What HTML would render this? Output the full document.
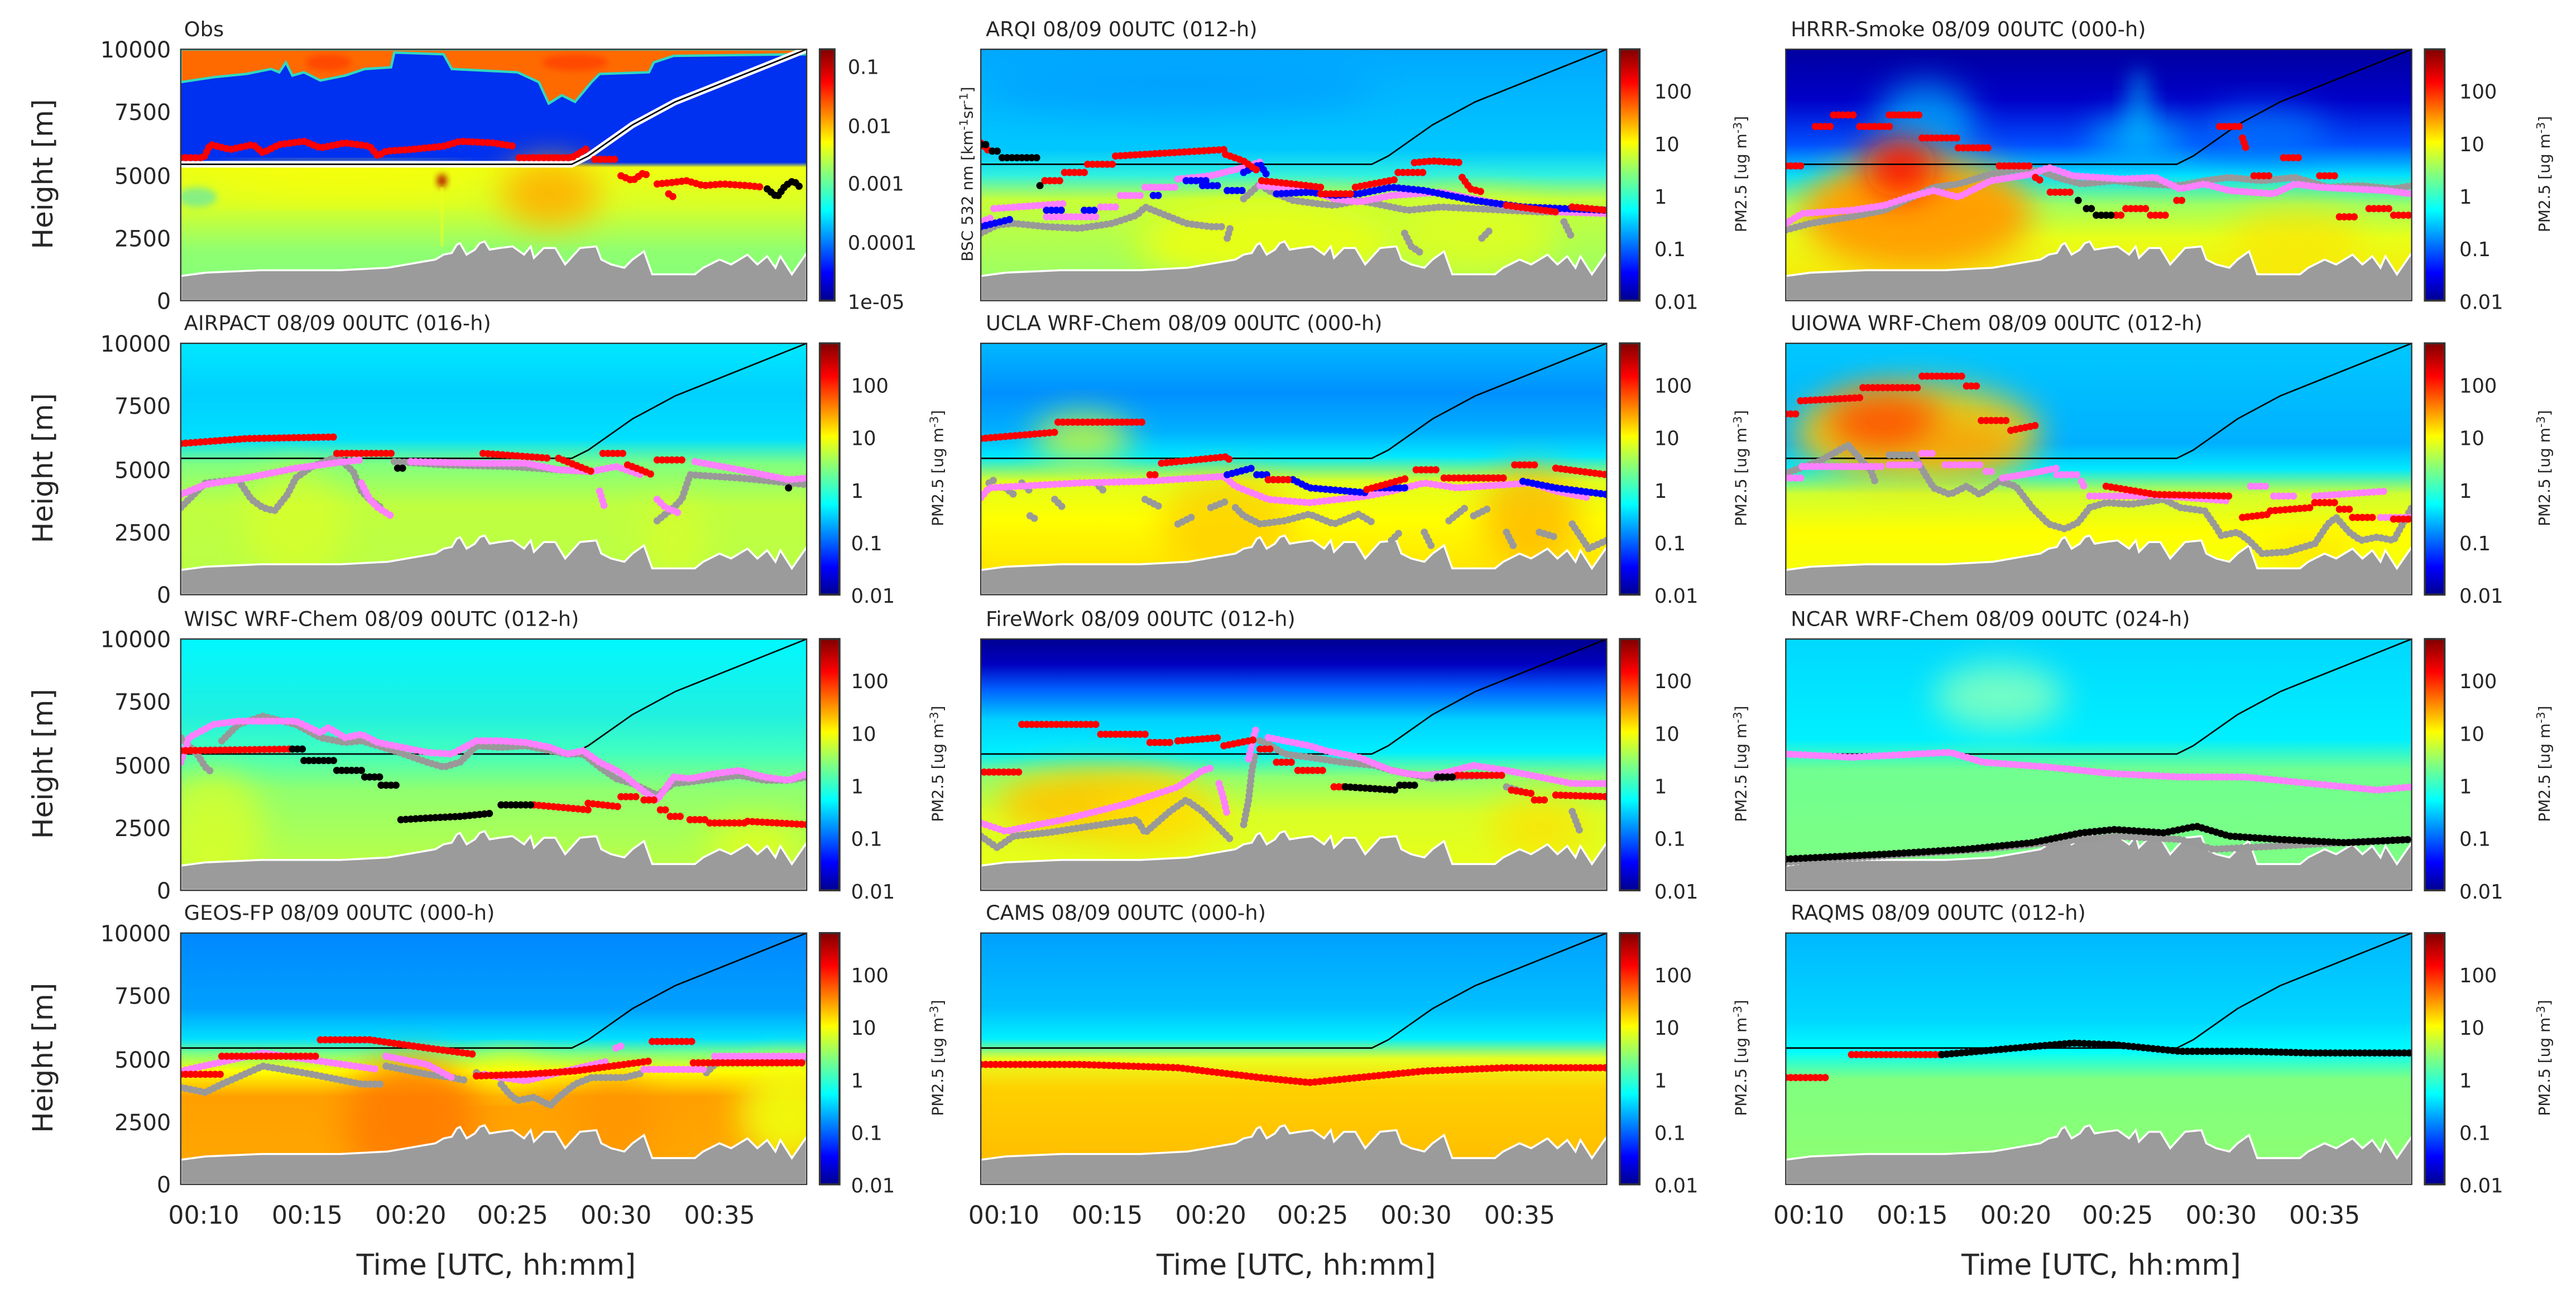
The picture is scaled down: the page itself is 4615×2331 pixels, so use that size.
<!DOCTYPE html>
<html><head><meta charset="utf-8"><style>html,body{margin:0;padding:0;background:#fff}svg{display:block}text{font-family:"DejaVu Sans","Liberation Sans",sans-serif;fill:#262626}</style></head><body>
<svg width="4615" height="2331" viewBox="0 0 1568 792" xmlns="http://www.w3.org/2000/svg">
<defs>
<linearGradient id="jet" x1="0" y1="1" x2="0" y2="0">
<stop offset="0" stop-color="#00008f"/><stop offset=".11" stop-color="#0000ff"/><stop offset=".36" stop-color="#00ffff"/><stop offset=".5" stop-color="#80ff80"/><stop offset=".63" stop-color="#ffff00"/><stop offset=".87" stop-color="#ff0000"/><stop offset="1" stop-color="#800000"/></linearGradient>
<linearGradient id="g1" x1="0" y1="0" x2="0" y2="1"><stop offset="0" stop-color="#0030f0"/><stop offset=".45" stop-color="#0030f0"/><stop offset=".47" stop-color="#f0ff10"/><stop offset=".62" stop-color="#d8ff28"/><stop offset=".8" stop-color="#90ff70"/><stop offset="1" stop-color="#80ff80"/></linearGradient>
<linearGradient id="g2" x1="0" y1="0" x2="0" y2="1"><stop offset="0" stop-color="#00a8ff"/><stop offset=".4" stop-color="#00c8ff"/><stop offset=".5" stop-color="#30f0e0"/><stop offset=".6" stop-color="#c8ff38"/><stop offset="1" stop-color="#90ff70"/></linearGradient>
<linearGradient id="g3" x1="0" y1="0" x2="0" y2="1"><stop offset="0" stop-color="#0000a0"/><stop offset=".2" stop-color="#0000c8"/><stop offset=".38" stop-color="#0050ff"/><stop offset=".5" stop-color="#00e0ff"/><stop offset=".62" stop-color="#a0ff60"/><stop offset=".75" stop-color="#e8ff18"/><stop offset="1" stop-color="#ffe000"/></linearGradient>
<linearGradient id="g4" x1="0" y1="0" x2="0" y2="1"><stop offset="0" stop-color="#00e8ff"/><stop offset=".2" stop-color="#00d0ff"/><stop offset=".38" stop-color="#00e0ff"/><stop offset=".48" stop-color="#80ff80"/><stop offset=".65" stop-color="#c0ff40"/><stop offset="1" stop-color="#b8ff48"/></linearGradient>
<linearGradient id="g5" x1="0" y1="0" x2="0" y2="1"><stop offset="0" stop-color="#00b8ff"/><stop offset=".2" stop-color="#0090ff"/><stop offset=".35" stop-color="#00b0ff"/><stop offset=".45" stop-color="#00e8ff"/><stop offset=".55" stop-color="#e0ff20"/><stop offset=".7" stop-color="#ffff00"/><stop offset="1" stop-color="#ffd800"/></linearGradient>
<linearGradient id="g6" x1="0" y1="0" x2="0" y2="1"><stop offset="0" stop-color="#00c8ff"/><stop offset=".4" stop-color="#00b0ff"/><stop offset=".5" stop-color="#00e8ff"/><stop offset=".6" stop-color="#d0ff30"/><stop offset=".75" stop-color="#ffff00"/><stop offset="1" stop-color="#f0ff10"/></linearGradient>
<linearGradient id="g7" x1="0" y1="0" x2="0" y2="1"><stop offset="0" stop-color="#00f8ff"/><stop offset=".3" stop-color="#20f0e0"/><stop offset=".45" stop-color="#40ffc0"/><stop offset=".6" stop-color="#90ff70"/><stop offset="1" stop-color="#c8ff38"/></linearGradient>
<linearGradient id="g8" x1="0" y1="0" x2="0" y2="1"><stop offset="0" stop-color="#000090"/><stop offset=".1" stop-color="#0000c0"/><stop offset=".2" stop-color="#0060ff"/><stop offset=".32" stop-color="#00d0ff"/><stop offset=".45" stop-color="#00f0ff"/><stop offset=".55" stop-color="#90ff70"/><stop offset=".7" stop-color="#d8ff28"/><stop offset="1" stop-color="#f0ff10"/></linearGradient>
<linearGradient id="g9" x1="0" y1="0" x2="0" y2="1"><stop offset="0" stop-color="#00d8ff"/><stop offset=".4" stop-color="#00f0ff"/><stop offset=".52" stop-color="#70ff90"/><stop offset="1" stop-color="#80ff80"/></linearGradient>
<linearGradient id="g10" x1="0" y1="0" x2="0" y2="1"><stop offset="0" stop-color="#0088ff"/><stop offset=".3" stop-color="#00a0ff"/><stop offset=".42" stop-color="#00e0ff"/><stop offset=".48" stop-color="#80ff80"/><stop offset=".55" stop-color="#ffff00"/><stop offset=".65" stop-color="#ffa000"/><stop offset="1" stop-color="#ffa800"/></linearGradient>
<linearGradient id="g11" x1="0" y1="0" x2="0" y2="1"><stop offset="0" stop-color="#00a0ff"/><stop offset=".3" stop-color="#00c0ff"/><stop offset=".42" stop-color="#00f0ff"/><stop offset=".5" stop-color="#e8ff20"/><stop offset=".62" stop-color="#ffd000"/><stop offset="1" stop-color="#ffb800"/></linearGradient>
<linearGradient id="g12" x1="0" y1="0" x2="0" y2="1"><stop offset="0" stop-color="#00b8ff"/><stop offset=".35" stop-color="#00d8ff"/><stop offset=".47" stop-color="#00ffff"/><stop offset=".58" stop-color="#80ff80"/><stop offset="1" stop-color="#90ff70"/></linearGradient>
<clipPath id="cp"><rect x="0" y="0" width="381" height="153"/></clipPath>
<filter id="bl" x="-50%" y="-50%" width="200%" height="200%"><feGaussianBlur stdDeviation="10"/></filter>
<filter id="bl2" x="-50%" y="-50%" width="200%" height="200%"><feGaussianBlur stdDeviation="2"/></filter>
<filter id="bl3" x="-50%" y="-50%" width="200%" height="200%"><feGaussianBlur stdDeviation="6"/></filter>
<polygon id="terr" points="0,153 0,138 15,136 49,134.5 97,134.5 126,133 155,128 160,125 165,124 168,119 170,118 174,125 179,122 182,118 185,117 188,122 194,121 202,120 209,125 213,120 215,127 221,121 228,121 234,131 243,121 253,120 256,128 262,131 270,133 275,128 282,123 287,137 313,137 318,133 328,128 335,131 345,125 351,131 357,126 362,133 365,126 372,137 381,124 381,153" fill="#9b9b9b" stroke="#fff" stroke-width="1.2"/>
<polyline id="trk" points="0,70 238,70 248,65 275,46 301,32 381,0" fill="none" stroke="#000" stroke-width="0.9"/>
<rect id="frame" x="0" y="0" width="381" height="153" fill="none" stroke="#333" stroke-width="0.8"/>
</defs>
<style>.d{fill:none;stroke-linecap:round;stroke-linejoin:round;stroke-width:4.4;stroke-dasharray:0 3}.r{stroke:#f00}.p{stroke:#ff80ff}.k{stroke:#000}.b{stroke:#00f}.gy{stroke:#999}</style>

<!-- Panel 1 Obs -->
<g transform="translate(110,30)"><g clip-path="url(#cp)">
<rect width="381" height="153" fill="url(#g1)"/>
<path d="M0,0 H381 V3 L300,4 L288,8 L285,14 L255,15 L250,20 L240,32 L232,28 L224,33 L218,20 L205,14 L165,12 L160,3 L130,2 L128,11 L112,12 L100,16 L85,19 L75,14 L68,16 L64,8 L60,14 L55,12 L40,15 L20,17 L0,20 Z" fill="#ff6a00" stroke="#30d8c0" stroke-width="1.5"/>
<ellipse cx="90" cy="8" rx="14" ry="5" fill="#ff3000" opacity=".6" filter="url(#bl2)"/>
<ellipse cx="240" cy="8" rx="20" ry="5" fill="#ff3000" opacity=".6" filter="url(#bl2)"/>
<ellipse cx="225" cy="88" rx="30" ry="20" fill="#ffb000" opacity=".9" filter="url(#bl)"/>
<ellipse cx="100" cy="82" rx="80" ry="8" fill="#ffff00" opacity=".7" filter="url(#bl)"/>
<ellipse cx="10" cy="90" rx="12" ry="6" fill="#30e0e0" opacity=".5" filter="url(#bl2)"/>
<ellipse cx="159" cy="80" rx="3" ry="4" fill="#b00000" opacity=".9" filter="url(#bl2)"/>
<rect x="158" y="84" width="2" height="36" fill="#f0ff20" opacity=".5"/>
<use href="#terr"/>
<polyline points="0,70 238,70 248,65 275,46 301,32 381,0" fill="none" stroke="#fff" stroke-width="4"/>
<use href="#trk"/>
<path class="d r" d="M0,66 L14,66 L18,58 L30,61 L44,58 L50,63 L60,58 L75,56 L85,60 L100,57 L115,59 L120,65 L125,62 L140,61 L160,59 L170,56 L190,57 L203,59 M206,66 L238,66 L248,60 M252,67 L266,67 M268,77 L275,80 L282,75 L285,78 M290,82 L300,81 L308,80 L318,83 L330,82 L345,83 L355,84 M297,88 L300,90"/>
<path class="d k" d="M357,85 L363,90 L368,83 L373,80 L378,85"/>
</g><use href="#frame"/></g>

<!-- Panel 2 ARQI -->
<g transform="translate(597,30)"><g clip-path="url(#cp)">
<rect width="381" height="153" fill="url(#g2)"/>
<ellipse cx="120" cy="25" rx="120" ry="14" fill="#0090ff" opacity=".5" filter="url(#bl)"/>
<ellipse cx="175" cy="118" rx="80" ry="25" fill="#f0ff10" opacity=".85" filter="url(#bl)"/>
<ellipse cx="300" cy="115" rx="50" ry="25" fill="#e8ff18" opacity=".7" filter="url(#bl)"/>
<use href="#terr"/><use href="#trk"/>
<path class="d gy" d="M0,112 L10,107 L20,106 L40,108 L60,109 L80,106 L95,101 L100,96 L110,100 L125,106 L140,108 L148,108 M160,91 L170,82 L175,86 L190,92 L205,94 L215,95 L230,92 L260,98 L280,96 L300,97 L340,99 L381,99 M150,115 L152,108 M258,112 L262,120 L268,124 M305,115 L310,110 M355,105 L360,115"/>
<path class="d p" d="M0,105 L8,102 M8,97 L50,94 M40,102 L73,102 M73,96 L83,96 M85,89 L100,89 M100,84 L120,84 M120,79 L140,77 L160,72 L172,68 M170,83 L200,86 L215,91 L230,93 L250,89 L280,87 L300,91 L320,95 L350,99 L381,100"/>
<path class="d b" d="M0,108 L20,103 M40,98 L50,98 M63,98 L72,98 M105,89 L110,89 M125,80 L140,80 M135,83 L145,83 M150,86 L160,86 M160,75 L170,70 L175,78 M180,88 L200,87 L215,89 L230,88 L250,84 L270,86 L300,92 L330,96 L381,98"/>
<path class="d r" d="M0,57 L5,62 M39,80 L51,80 M51,75 L65,75 M65,70 L82,70 M82,65 L149,61 M149,64 L160,68 L170,75 M171,80 L190,82 L207,84 M207,88 L228,88 M228,84 L254,79 M254,75 L272,75 M264,69 L275,68 L293,69 M293,78 L298,85 L306,87 M320,95 L350,99 M360,96 L381,98"/>
<path class="d k" d="M0,58 L6,58 M7,62 L12,62 M13,66 L37,66 M36,83 L37,83"/>
</g><use href="#frame"/></g>

<!-- Panel 3 HRRR -->
<g transform="translate(1087,30)"><g clip-path="url(#cp)">
<rect width="381" height="153" fill="url(#g3)"/>
<ellipse cx="85" cy="45" rx="30" ry="25" fill="#00c0ff" opacity=".7" filter="url(#bl)"/>
<ellipse cx="215" cy="38" rx="8" ry="26" fill="#00c8ff" opacity=".5" filter="url(#bl3)"/>
<ellipse cx="215" cy="55" rx="30" ry="15" fill="#00c0ff" opacity=".7" filter="url(#bl)"/>
<ellipse cx="290" cy="50" rx="40" ry="15" fill="#0080ff" opacity=".7" filter="url(#bl)"/>
<ellipse cx="80" cy="100" rx="70" ry="35" fill="#ffa000" opacity="1" filter="url(#bl)"/>
<ellipse cx="70" cy="72" rx="22" ry="18" fill="#ff1000" opacity=".9" filter="url(#bl)"/>
<ellipse cx="310" cy="115" rx="40" ry="20" fill="#ffe000" opacity=".6" filter="url(#bl)"/>
<use href="#terr"/><use href="#trk"/>
<path class="d gy" d="M0,110 L15,106 L40,102 L60,98 L90,84 L105,82 L125,76 L140,73 L155,74 L165,78 L180,82 L200,80 L220,82 L240,83 L255,80 L270,78 L290,80 L310,78 L330,84 L350,83 L370,85 L381,83"/>
<path class="d p" d="M0,106 L10,100 L40,98 L60,95 L75,90 L90,86 L105,90 L115,85 L125,80 L150,76 L160,72 L175,77 L190,78 L205,79 L225,78 L240,85 L255,82 L270,86 L283,87 L297,88 L310,82 L325,84 L345,85 L365,86 L381,88"/>
<path class="d r" d="M29,40 L44,40 M63,40 L83,40 M18,47 L30,47 M45,47 L64,47 M83,54 L105,54 M105,60 L126,60 M0,71 L11,71 M130,71 L150,71 M152,78 L157,81 M161,87 L175,87 M201,101 L205,101 M207,97 L220,97 M222,101 L234,101 M264,47 L277,47 M278,54 L280,60 M303,66 L313,66 M285,77 L296,77 M325,77 L335,77 M238,92 L244,92 M355,97 L368,97 M337,102 L349,102 M370,101 L381,101"/>
<path class="d k" d="M178,92 L180,93 M183,97 L187,97 M189,101 L200,101"/>
</g><use href="#frame"/></g>

<!-- Row 2 AIRPACT -->
<g transform="translate(110,209)"><g clip-path="url(#cp)">
<rect width="381" height="153" fill="url(#g4)"/>
<ellipse cx="70" cy="110" rx="30" ry="35" fill="#e0ff20" opacity=".6" filter="url(#bl)"/>
<ellipse cx="300" cy="120" rx="20" ry="25" fill="#e0ff20" opacity=".6" filter="url(#bl)"/>
<use href="#terr"/><use href="#trk"/>
<path class="d gy" d="M0,100 L15,85 L35,83 L43,95 L50,100 L57,102 L65,92 L70,82 L80,75 L95,69 L105,78 L110,90 L115,95 L122,100 M130,72 L160,74 L200,75 L230,77 L250,78 M290,108 L300,100 L305,95 L310,80 L340,82 L381,86"/>
<path class="d p" d="M0,92 L15,86 L40,82 L70,76 L100,72 L110,71 M140,72 L180,73 L210,73 L230,77 L250,78 L265,75 L280,80 M313,72 L340,77 L370,83 L381,82 M110,85 L115,95 L120,100 L128,105 M255,90 L258,100 M290,95 L295,100 L305,104"/>
<path class="d r" d="M0,61 L40,58 L95,57 M95,67 L130,67 M184,67 L225,70 M230,70 L240,74 L250,78 M257,67 L270,67 M272,74 L280,77 L287,80 M290,71 L308,71"/>
<path class="d k" d="M132,76 L137,76 M370,88 L372,89"/>
</g><use href="#frame"/></g>

<!-- UCLA -->
<g transform="translate(597,209)"><g clip-path="url(#cp)">
<rect width="381" height="153" fill="url(#g5)"/>
<ellipse cx="62" cy="58" rx="30" ry="15" fill="#e0ff20" opacity=".8" filter="url(#bl)"/>
<ellipse cx="150" cy="110" rx="40" ry="30" fill="#ffc000" opacity=".6" filter="url(#bl)"/>
<ellipse cx="335" cy="105" rx="30" ry="30" fill="#ffa000" opacity=".6" filter="url(#bl)"/>
<use href="#terr"/><use href="#trk"/>
<path class="d gy" d="M5,85 L10,82 M15,88 L20,92 M25,85 L30,90 M30,105 L35,108 M45,95 L50,100 M70,85 L75,90 M100,95 L110,100 M120,110 L130,105 M140,100 L150,96 M155,100 L160,105 L170,110 L185,108 L200,104 L215,110 L230,104 L240,110 M250,120 L255,115 M270,115 L275,125 M285,108 L295,100 M300,105 L310,100 M320,115 L325,125 M340,115 L350,118 M360,110 L370,125 L381,120"/>
<path class="d p" d="M0,94 L5,88 L60,85 L100,84 L148,81 L155,87 L175,95 L200,97 L235,93 L250,90 L270,85 L290,88 L320,86 L335,85 L350,90 L370,94"/>
<path class="d b" d="M150,80 L165,76 M168,80 L175,80 M175,83 L190,83 L200,88 L235,91 M240,88 L260,88 M300,82 L320,82 M330,84 L350,88 L381,92"/>
<path class="d r" d="M0,58 L47,54 M47,48 L101,48 M103,80 L108,80 M110,73 L150,69 L152,72 M175,83 L190,83 M235,89 L260,82 M265,77 L278,77 M282,82 L320,82 M325,74 L340,74 M350,76 L381,80"/>
</g><use href="#frame"/></g>

<!-- UIOWA -->
<g transform="translate(1087,209)"><g clip-path="url(#cp)">
<rect width="381" height="153" fill="url(#g6)"/>
<ellipse cx="80" cy="55" rx="75" ry="30" fill="#ffd000" opacity=".9" filter="url(#bl)"/>
<ellipse cx="60" cy="48" rx="35" ry="18" fill="#ff5000" opacity=".9" filter="url(#bl)"/>
<ellipse cx="110" cy="62" rx="30" ry="12" fill="#ff9000" opacity=".7" filter="url(#bl)"/>
<ellipse cx="320" cy="128" rx="30" ry="12" fill="#ffe000" opacity=".7" filter="url(#bl)"/>
<use href="#terr"/><use href="#trk"/>
<path class="d gy" d="M0,79 L20,72 L38,62 L45,70 L52,78 L55,86 M63,68 L78,68 L85,80 L90,88 L100,92 L110,87 L118,92 L130,84 L140,87 L150,100 L160,110 L170,113 L178,109 L185,100 L195,97 L210,98 L230,95 L240,100 L255,102 L262,112 L265,117 L275,115 L282,120 L290,128 L305,127 L322,122 L330,110 L335,106 L343,115 L350,120 L360,118 L370,120 L381,100"/>
<path class="d p" d="M0,82 L10,82 M10,75 L60,75 M63,74 L82,74 M83,67 L90,67 M97,74 L120,74 M122,78 L128,78 M132,82 L150,79 L165,76 M165,80 L178,80 M180,84 L182,88 M185,93 L220,93 M220,92 L270,96 M283,87 L295,87 M297,93 L312,93 M322,93 L365,90 M362,106 L381,106"/>
<path class="d r" d="M0,43 L8,43 M9,35 L47,33 M47,27 L83,27 M83,20 L110,20 M110,26 L119,26 M119,47 L135,47 M137,53 L152,50 M195,87 L225,92 L270,93 M278,106 L295,104 M295,102 L320,100 M322,97 L335,97 M337,101 L345,101 M345,106 L358,106 M370,107 L381,107"/>
</g><use href="#frame"/></g>

<!-- Row 3 WISC -->
<g transform="translate(110,389)"><g clip-path="url(#cp)">
<rect width="381" height="153" fill="url(#g7)"/>
<ellipse cx="20" cy="115" rx="30" ry="35" fill="#e0ff20" opacity=".7" filter="url(#bl)"/>
<ellipse cx="350" cy="125" rx="30" ry="15" fill="#f0ff10" opacity=".7" filter="url(#bl)"/>
<use href="#terr"/><use href="#trk"/>
<path class="d gy" d="M0,60 L10,70 L15,78 L20,82 M25,62 L35,52 L50,47 L70,52 L85,60 L100,63 L110,62 L130,68 L150,75 L160,78 L170,75 L180,65 L195,66 L210,65 L225,68 L235,70 L245,70 L255,78 L265,85 L275,88 L290,95 L300,88 L310,87 L325,85 L340,83 L355,86 L370,86 L381,84"/>
<path class="d p" d="M0,75 L5,60 L20,52 L35,50 L70,50 L85,57 L90,54 L100,60 L110,58 L120,63 L140,67 L150,69 L165,70 L180,62 L195,62 L210,63 L225,66 L235,70 L245,68 L255,75 L265,80 L270,83 L282,93 L290,98 L300,84 L310,85 L325,82 L340,80 L355,84 L370,86 L381,82"/>
<path class="d r" d="M0,68 L68,67 M215,101 L248,104 M248,100 L266,102 M268,96 L280,96 M282,98 L290,98 M292,104 L297,104 M298,108 L306,108 M310,110 L322,110 M322,112 L345,112 M345,111 L381,113"/>
<path class="d k" d="M68,67 L75,67 M75,74 L95,74 M95,80 L112,80 M112,84 L122,84 M122,89 L134,89 M134,110 L150,109 L170,108 L190,106 M195,101 L215,101"/>
</g><use href="#frame"/></g>

<!-- FireWork -->
<g transform="translate(597,389)"><g clip-path="url(#cp)">
<rect width="381" height="153" fill="url(#g8)"/>
<ellipse cx="70" cy="100" rx="60" ry="20" fill="#ffc800" opacity=".95" filter="url(#bl)"/>
<ellipse cx="110" cy="108" rx="40" ry="20" fill="#ffe000" opacity=".8" filter="url(#bl)"/>
<ellipse cx="340" cy="115" rx="30" ry="20" fill="#ffe000" opacity=".7" filter="url(#bl)"/>
<use href="#terr"/><use href="#trk"/>
<path class="d gy" d="M0,120 L10,127 L20,120 L40,118 L60,115 L80,112 L95,110 L100,118 L115,105 L125,98 L135,105 L145,115 L152,122 M160,113 L163,98 L165,80 L167,70 M170,62 L175,64 L185,70 L200,72 L220,75 L240,77 L250,80 L275,85 L290,84 L310,83 M320,90 L330,93 M360,105 L365,118"/>
<path class="d p" d="M0,112 L15,117 L50,110 L90,100 L120,90 L135,80 L142,78 M145,88 L148,98 L150,107 M163,73 L166,60 L168,53 M175,60 L185,62 L200,65 L210,68 L230,72 L240,76 L250,80 L260,82 L270,83 L280,82 L300,77 L320,80 L340,84 L360,88 L381,88"/>
<path class="d r" d="M2,81 L25,81 M25,52 L73,52 M73,58 L103,58 M103,63 L116,63 M120,62 L146,60 M148,65 L168,61 M170,67 L178,67 M180,75 L192,75 M193,80 L210,80 M215,90 L222,90 M290,83 L320,83 M323,92 L335,94 M337,98 L345,98 M350,95 L381,96"/>
<path class="d k" d="M222,90 L253,92 M255,89 L267,89 M278,84 L288,84"/>
</g><use href="#frame"/></g>

<!-- NCAR -->
<g transform="translate(1087,389)"><g clip-path="url(#cp)">
<rect width="381" height="153" fill="url(#g9)"/>
<ellipse cx="130" cy="35" rx="40" ry="20" fill="#80ffc0" opacity=".9" filter="url(#bl)"/>
<use href="#terr"/><use href="#trk"/>
<polyline class="d p" points="0,70 40,72 80,70 100,69 120,75 160,78 200,82 240,84 280,84 320,88 360,92 381,90"/>
<polyline class="d gy" points="0,136 60,132 120,128 160,124 200,120 240,122 260,128 300,126 340,124 381,122"/>
<polyline class="d k" points="0,134 60,131 110,128 150,124 180,118 200,116 230,118 250,114 270,120 300,122 340,124 381,122"/>
</g><use href="#frame"/></g>

<!-- Row 4 GEOS -->
<g transform="translate(110,568)"><g clip-path="url(#cp)">
<rect width="381" height="153" fill="url(#g10)"/>
<ellipse cx="140" cy="115" rx="40" ry="40" fill="#ff7800" opacity=".8" filter="url(#bl)"/>
<ellipse cx="265" cy="115" rx="25" ry="30" fill="#ff9000" opacity=".6" filter="url(#bl)"/>
<ellipse cx="370" cy="110" rx="30" ry="30" fill="#f0ff10" opacity=".9" filter="url(#bl)"/>
<ellipse cx="200" cy="85" rx="20" ry="10" fill="#ffff00" opacity=".8" filter="url(#bl)"/>
<use href="#terr"/><use href="#trk"/>
<path class="d gy" d="M0,94 L15,97 L25,92 L50,81 L80,86 L110,92 L122,92 M125,81 L150,86 L165,88 L175,90 M180,85 L185,88 M195,92 L200,98 L205,102 L215,100 L225,105 L230,100 L240,92 L250,88 L270,88 L282,85 M320,85 L330,75 L381,77"/>
<path class="d p" d="M0,84 L50,73 L120,83 M125,75 L150,80 L165,88 M185,86 L195,88 L210,90 L230,85 L260,78 M265,70 L270,68 M282,83 L320,83 M325,75 L381,75"/>
<path class="d r" d="M85,65 L115,65 L150,70 L180,74 M180,87 L210,86 L240,84 L285,78 M287,66 L312,66 M312,79 L381,79 M25,75 L85,75 M0,86 L25,86"/>
</g><use href="#frame"/></g>

<!-- CAMS -->
<g transform="translate(597,568)"><g clip-path="url(#cp)">
<rect width="381" height="153" fill="url(#g11)"/>
<use href="#terr"/><use href="#trk"/>
<polyline class="d r" points="0,80 60,80 120,82 170,88 200,91 230,88 270,84 320,82 381,82"/>
</g><use href="#frame"/></g>

<!-- RAQMS -->
<g transform="translate(1087,568)"><g clip-path="url(#cp)">
<rect width="381" height="153" fill="url(#g12)"/>
<use href="#terr"/><use href="#trk"/>
<path class="d r" d="M0,88 L25,88 M40,74 L95,74"/>
<polyline class="d k" points="95,74 140,70 175,67 200,68 240,72 280,72 320,73 381,73"/>
</g><use href="#frame"/></g>

<!-- colorbars -->
<g stroke="#333" stroke-width="1.2" fill="url(#jet)">
<rect x="499" y="30" width="9" height="153"/>
<rect x="986" y="30" width="12" height="153"/>
<rect x="1476" y="30" width="12" height="153"/>
<rect x="499" y="209" width="12" height="153"/>
<rect x="986" y="209" width="12" height="153"/>
<rect x="1476" y="209" width="12" height="153"/>
<rect x="499" y="389" width="12" height="153"/>
<rect x="986" y="389" width="12" height="153"/>
<rect x="1476" y="389" width="12" height="153"/>
<rect x="499" y="568" width="12" height="153"/>
<rect x="986" y="568" width="12" height="153"/>
<rect x="1476" y="568" width="12" height="153"/>
</g>

<g font-size="12">
<text x="516" y="45">0.1</text><text x="516" y="81">0.01</text><text x="516" y="116">0.001</text><text x="516" y="152">0.0001</text><text x="516" y="188">1e-05</text>
</g>
<text transform="translate(592,106) rotate(-90)" font-size="9.5" text-anchor="middle">BSC 532 nm [km<tspan dy="-3" font-size="7">-1</tspan><tspan dy="3">sr</tspan><tspan dy="-3" font-size="7">-1</tspan><tspan dy="3">]</tspan></text>

<g font-size="12">
<g transform="translate(1007,0)"><text y="60">100</text><text y="92">10</text><text y="124">1</text><text y="156">0.1</text><text y="188">0.01</text></g>
<g transform="translate(1497,0)"><text y="60">100</text><text y="92">10</text><text y="124">1</text><text y="156">0.1</text><text y="188">0.01</text></g>
<g transform="translate(518,179)"><text y="60">100</text><text y="92">10</text><text y="124">1</text><text y="156">0.1</text><text y="188">0.01</text></g>
<g transform="translate(1007,179)"><text y="60">100</text><text y="92">10</text><text y="124">1</text><text y="156">0.1</text><text y="188">0.01</text></g>
<g transform="translate(1497,179)"><text y="60">100</text><text y="92">10</text><text y="124">1</text><text y="156">0.1</text><text y="188">0.01</text></g>
<g transform="translate(518,359)"><text y="60">100</text><text y="92">10</text><text y="124">1</text><text y="156">0.1</text><text y="188">0.01</text></g>
<g transform="translate(1007,359)"><text y="60">100</text><text y="92">10</text><text y="124">1</text><text y="156">0.1</text><text y="188">0.01</text></g>
<g transform="translate(1497,359)"><text y="60">100</text><text y="92">10</text><text y="124">1</text><text y="156">0.1</text><text y="188">0.01</text></g>
<g transform="translate(518,538)"><text y="60">100</text><text y="92">10</text><text y="124">1</text><text y="156">0.1</text><text y="188">0.01</text></g>
<g transform="translate(1007,538)"><text y="60">100</text><text y="92">10</text><text y="124">1</text><text y="156">0.1</text><text y="188">0.01</text></g>
<g transform="translate(1497,538)"><text y="60">100</text><text y="92">10</text><text y="124">1</text><text y="156">0.1</text><text y="188">0.01</text></g>
</g>
<g font-size="9.5" text-anchor="middle">
<text transform="translate(1063,106) rotate(-90)">PM2.5 [ug m<tspan dy="-3" font-size="7">-3</tspan><tspan dy="3">]</tspan></text>
<text transform="translate(1552,106) rotate(-90)">PM2.5 [ug m<tspan dy="-3" font-size="7">-3</tspan><tspan dy="3">]</tspan></text>
<text transform="translate(574,285) rotate(-90)">PM2.5 [ug m<tspan dy="-3" font-size="7">-3</tspan><tspan dy="3">]</tspan></text>
<text transform="translate(1063,285) rotate(-90)">PM2.5 [ug m<tspan dy="-3" font-size="7">-3</tspan><tspan dy="3">]</tspan></text>
<text transform="translate(1552,285) rotate(-90)">PM2.5 [ug m<tspan dy="-3" font-size="7">-3</tspan><tspan dy="3">]</tspan></text>
<text transform="translate(574,465) rotate(-90)">PM2.5 [ug m<tspan dy="-3" font-size="7">-3</tspan><tspan dy="3">]</tspan></text>
<text transform="translate(1063,465) rotate(-90)">PM2.5 [ug m<tspan dy="-3" font-size="7">-3</tspan><tspan dy="3">]</tspan></text>
<text transform="translate(1552,465) rotate(-90)">PM2.5 [ug m<tspan dy="-3" font-size="7">-3</tspan><tspan dy="3">]</tspan></text>
<text transform="translate(574,644) rotate(-90)">PM2.5 [ug m<tspan dy="-3" font-size="7">-3</tspan><tspan dy="3">]</tspan></text>
<text transform="translate(1063,644) rotate(-90)">PM2.5 [ug m<tspan dy="-3" font-size="7">-3</tspan><tspan dy="3">]</tspan></text>
<text transform="translate(1552,644) rotate(-90)">PM2.5 [ug m<tspan dy="-3" font-size="7">-3</tspan><tspan dy="3">]</tspan></text>
</g>

<g font-size="12.5">
<text x="112" y="22">Obs</text>
<text x="600" y="22">ARQI 08/09 00UTC (012-h)</text>
<text x="1090" y="22">HRRR-Smoke 08/09 00UTC (000-h)</text>
<text x="112" y="201">AIRPACT 08/09 00UTC (016-h)</text>
<text x="600" y="201">UCLA WRF-Chem 08/09 00UTC (000-h)</text>
<text x="1090" y="201">UIOWA WRF-Chem 08/09 00UTC (012-h)</text>
<text x="112" y="381">WISC WRF-Chem 08/09 00UTC (012-h)</text>
<text x="600" y="381">FireWork 08/09 00UTC (012-h)</text>
<text x="1090" y="381">NCAR WRF-Chem 08/09 00UTC (024-h)</text>
<text x="112" y="560">GEOS-FP 08/09 00UTC (000-h)</text>
<text x="600" y="560">CAMS 08/09 00UTC (000-h)</text>
<text x="1090" y="560">RAQMS 08/09 00UTC (012-h)</text>
</g>

<g font-size="13.5" text-anchor="end">
<g transform="translate(104,0)"><text y="35">10000</text><text y="73">7500</text><text y="112">5000</text><text y="150">2500</text><text y="188">0</text></g>
<g transform="translate(104,179)"><text y="35">10000</text><text y="73">7500</text><text y="112">5000</text><text y="150">2500</text><text y="188">0</text></g>
<g transform="translate(104,359)"><text y="35">10000</text><text y="73">7500</text><text y="112">5000</text><text y="150">2500</text><text y="188">0</text></g>
<g transform="translate(104,538)"><text y="35">10000</text><text y="73">7500</text><text y="112">5000</text><text y="150">2500</text><text y="188">0</text></g>
</g>
<g font-size="17" text-anchor="middle">
<text transform="translate(32,106) rotate(-90)">Height [m]</text>
<text transform="translate(32,285) rotate(-90)">Height [m]</text>
<text transform="translate(32,465) rotate(-90)">Height [m]</text>
<text transform="translate(32,644) rotate(-90)">Height [m]</text>
</g>

<g font-size="15" text-anchor="middle">
<g transform="translate(110,745)"><text x="14">00:10</text><text x="77">00:15</text><text x="140">00:20</text><text x="202">00:25</text><text x="265">00:30</text><text x="328">00:35</text></g>
<g transform="translate(597,745)"><text x="14">00:10</text><text x="77">00:15</text><text x="140">00:20</text><text x="202">00:25</text><text x="265">00:30</text><text x="328">00:35</text></g>
<g transform="translate(1087,745)"><text x="14">00:10</text><text x="77">00:15</text><text x="140">00:20</text><text x="202">00:25</text><text x="265">00:30</text><text x="328">00:35</text></g>
</g>
<g font-size="17.5" text-anchor="middle">
<text x="302" y="776">Time [UTC, hh:mm]</text>
<text x="789" y="776">Time [UTC, hh:mm]</text>
<text x="1279" y="776">Time [UTC, hh:mm]</text>
</g>
</svg>
</body></html>
